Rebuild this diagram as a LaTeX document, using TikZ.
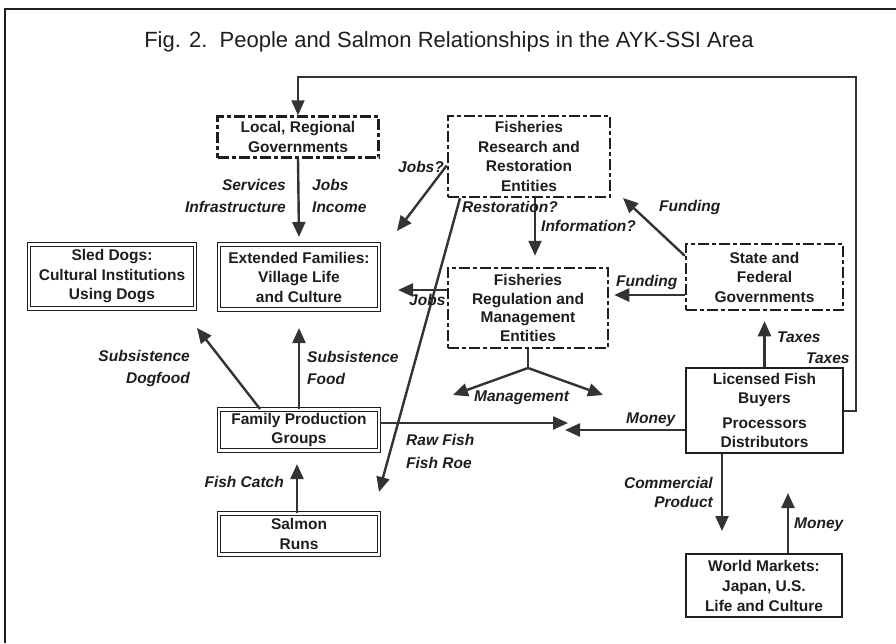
\documentclass[tikz,border=0pt]{standalone}
\usepackage{fontspec}
\setmainfont{Liberation Sans}
\usetikzlibrary{arrows.meta}
\definecolor{ink}{HTML}{1E1E1E}
\definecolor{arrowc}{HTML}{333333}
\tikzset{
  boxtext/.style={font=\fontsize{15.5}{19.5}\selectfont\bfseries, align=center, text=ink, inner sep=0pt},
  dashbox/.style={boxtext, draw=ink, line width=2.5pt, dash pattern=on 11pt off 3pt on 4pt off 3pt},
  dblbox/.style={boxtext, draw=ink, double, double distance=2.5pt, line width=1.1pt},
  solidbox/.style={boxtext, draw=ink, line width=2.2pt},
  arr/.style={draw=arrowc, line width=2.4pt, -{Triangle[length=15pt,width=13pt]}},
  plain/.style={draw=arrowc, line width=2.4pt},
  lbl/.style={font=\fontsize{15.5}{22}\selectfont\bfseries\itshape, text=ink, inner sep=0pt},
}
\begin{document}
\begin{tikzpicture}[x=1pt,y=-1pt]
\useasboundingbox (0,0) rectangle (896,643);
\fill[white] (0,0) rectangle (896,643);
% frame
\draw[ink, line width=1.5pt] (5,643) -- (5,9) -- (896,9);
% title
\node[font=\fontsize{22}{26}\selectfont, text=ink] (title) at (449,42) {Fig. 2.\ \ People and Salmon Relationships in the AYK-SSI Area};

% boxes
\node[dashbox, minimum width=161pt, minimum height=41pt] (lg) at (298,137) {Local, Regional\\Governments};
\node[dashbox, minimum width=162pt, minimum height=81pt] (fr) at (529,156.5) {Fisheries\\Research and\\Restoration\\Entities};
\node[dblbox, minimum width=166pt, minimum height=64pt] (sd) at (112,276.5) {Sled Dogs:\\Cultural Institutions\\Using Dogs};
\node[dblbox, minimum width=160pt, minimum height=65pt] (ef) at (299,277) {Extended Families:\\Village Life\\and Culture};
\node[dashbox, minimum width=160pt, minimum height=80pt, font=\fontsize{15.5}{18.5}\selectfont\bfseries] (fm) at (528,308) {Fisheries\\Regulation and\\Management\\Entities};
\node[dashbox, minimum width=157pt, minimum height=66pt] (sf) at (764.5,277) {State and\\Federal\\Governments};
\node[solidbox, minimum width=157pt, minimum height=85pt] (lb) at (764.5,410.5) {Licensed Fish\\Buyers\\[5pt]Processors\\Distributors};
\node[dblbox, minimum width=160pt, minimum height=41pt] (fp) at (299,430) {Family Production\\Groups};
\node[dblbox, minimum width=160pt, minimum height=41pt] (sr) at (299,534) {Salmon\\Runs};
\node[solidbox, minimum width=156pt, minimum height=63pt, font=\fontsize{15.5}{20}\selectfont\bfseries] (wm) at (764,585.5) {World Markets:\\Japan, U.S.\\Life and Culture};

% free-end coordinates
\coordinate (topright) at (856,77);
\coordinate (jobsq) at (397,231);
\coordinate (rawtip) at (379,492);
\coordinate (jobstip) at (398,290);
\coordinate (fundtip) at (623,198);
\coordinate (mj) at (528,368);
\coordinate (mleft) at (453,395);
\coordinate (mright) at (603,395);
\coordinate (fishtip) at (568,423);
\coordinate (moneytip) at (565,430);
\coordinate (comtip) at (722,531);
\coordinate (wmtip) at (788,493);
\coordinate (dogtip) at (197,328);

% connectors
\draw[arr, line width=2pt] (lb.east) -| (topright) -| (lg.north);
\draw[arr] (lg.south) -- ([yshift=7pt]ef.north);
\draw[arr] ([yshift=-9pt]fr.west) -- (jobsq);
\draw[arr] ([xshift=6pt]fr.south) -- ([xshift=7pt,yshift=11pt]fm.north);
\draw[arr] ([xshift=-69pt]fr.south) -- (rawtip);
\draw[arr] ([yshift=18pt]fm.west) -- (jobstip);
\draw[arr] ([yshift=-13pt]sf.north west) -- (fundtip);
\draw[arr] ([yshift=-18pt]sf.west) -- ([xshift=5pt]fm.east |- 0,295);
\draw[plain] (fm.south) -- (mj);
\draw[arr] (mj) -- (mleft);
\draw[arr] (mj) -- (mright);
\draw[arr] ([yshift=7pt]fp.east) -- (fishtip);
\draw[arr] ([yshift=-19.5pt]lb.west) -- (moneytip);
\draw[arr] (lb.north) -- ([yshift=-10pt]sf.south);
\draw[arr] ([xshift=-42.5pt]lb.south) -- (comtip);
\draw[arr] ([xshift=24pt]wm.north) -- (wmtip);
\draw[arr] ([xshift=-39pt]fp.north) -- (dogtip);
\draw[arr] (fp.north) -- ([yshift=-18pt]ef.south);
\draw[arr] ([xshift=-2pt]sr.north) -- ([xshift=-2pt,yshift=-13pt]fp.south);

% labels
\node[lbl, anchor=east, align=right] (l1) at (286,196) {Services\\Infrastructure};
\node[lbl, anchor=west, align=left] (l2) at (312,196) {Jobs\\Income};
\node[lbl, anchor=east] (l3) at (444,167) {Jobs?};
\node[lbl, anchor=west] (l4) at (462,207) {Restoration?};
\node[lbl, anchor=west] (l5) at (541,226) {Information?};
\node[lbl, anchor=west, align=left, font=\fontsize{15.5}{23}\selectfont\bfseries\itshape] (l6) at (406,451) {Raw Fish\\Fish Roe};
\node[lbl, anchor=west] (l7) at (409,300) {Jobs};
\node[lbl, anchor=west] (l8) at (659,207) {Funding};
\node[lbl, anchor=west] (l9) at (616,282) {Funding};
\node[lbl, anchor=west] (l10) at (474,398) {Management};
\node[lbl, anchor=west] (l11) at (626,420) {Money};
\node[lbl, anchor=west] (l12) at (777,337) {Taxes};
\node[lbl, anchor=west] (l13) at (806,358) {Taxes};
\node[lbl, anchor=east, align=right, font=\fontsize{15.5}{19}\selectfont\bfseries\itshape] (l14) at (713,492) {Commercial\\Product};
\node[lbl, anchor=west] (l15) at (794,525) {Money};
\node[lbl, anchor=east, align=right] (l16) at (190,368) {Subsistence\\Dogfood};
\node[lbl, anchor=west, align=left] (l17) at (307,368) {Subsistence\\Food};
\node[lbl, anchor=east] (l18) at (284,482) {Fish Catch};
\end{tikzpicture}
\end{document}
